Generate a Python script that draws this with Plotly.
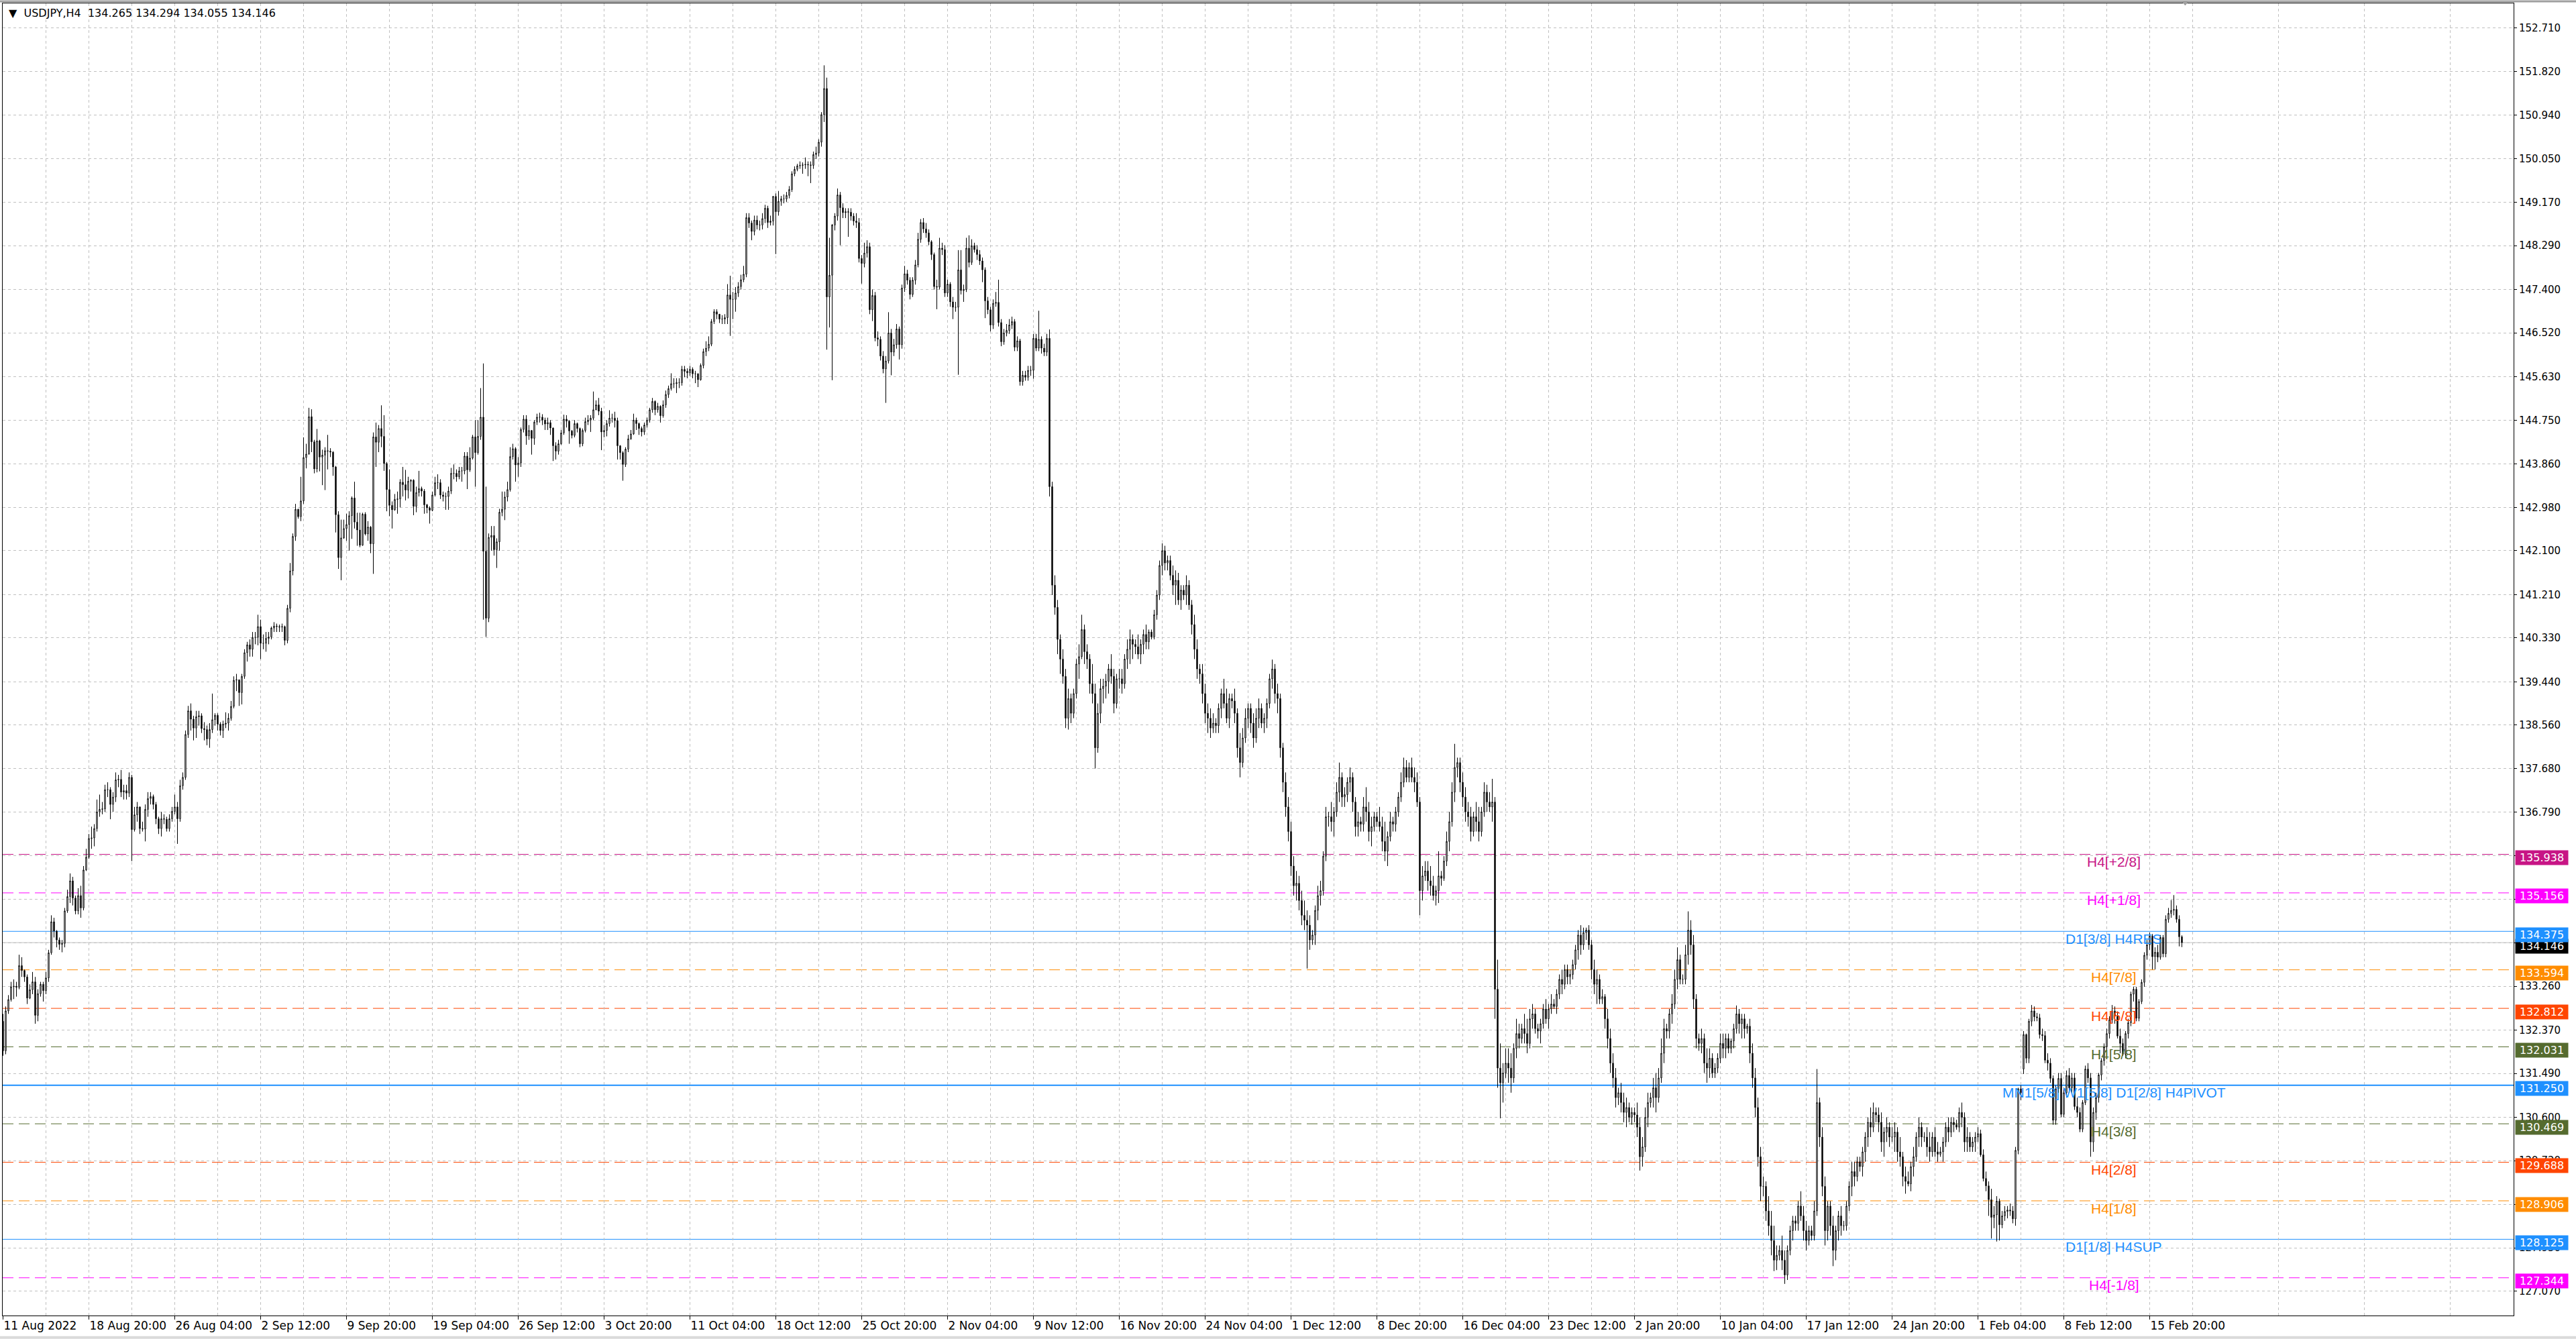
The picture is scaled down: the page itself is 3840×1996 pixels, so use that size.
import plotly.graph_objects as go

# ---------------- data (USDJPY H4, bar 0 = 11 Aug 2022 12:00, last bar = 17 Feb 2023 20:00) ----------------
open_ = [
132.55,131.95,132.76,132.99,133.25,133.26,133.24,133.68,133.58,133.45,
133.02,133.19,133.35,132.67,133.11,133.30,133.17,133.43,133.94,134.57,
134.38,134.20,134.11,134.13,134.79,135.08,135.40,135.05,134.79,135.10,
134.85,135.62,135.88,136.26,136.27,136.46,136.80,136.85,136.86,137.25,
137.25,136.95,137.10,137.45,137.46,137.20,137.23,137.18,137.50,136.44,
136.74,136.90,136.46,136.45,136.85,137.07,137.11,136.95,136.66,136.46,
136.66,136.65,136.46,136.66,136.81,136.90,136.66,137.33,137.50,138.37,
138.85,138.68,138.50,138.73,138.75,138.49,138.47,138.28,138.47,138.67,
138.76,138.58,138.45,138.58,138.60,138.70,138.94,139.47,139.48,139.22,
139.55,140.03,140.19,140.10,140.34,140.34,140.56,140.22,140.22,140.32,
140.35,140.53,140.57,140.56,140.55,140.56,140.28,140.93,141.69,142.39,
142.94,142.79,143.11,143.99,144.06,144.82,144.31,143.76,144.33,144.00,
144.04,144.13,144.12,144.10,143.80,142.83,141.96,142.36,142.55,142.63,
142.81,143.17,142.68,142.52,142.21,142.84,142.44,142.58,142.24,144.41,
144.30,144.58,144.42,143.87,143.34,143.02,142.93,143.14,143.15,143.49,
143.44,143.33,143.51,143.53,143.00,143.28,143.36,143.31,143.03,142.97,
142.92,143.23,143.48,143.48,143.23,143.20,143.20,143.31,143.67,143.67,
143.60,143.72,143.72,144.02,143.74,143.98,144.41,144.09,144.42,144.81,
142.09,140.73,142.37,142.41,142.12,142.28,142.88,142.94,143.19,143.34,
144.01,144.17,143.84,143.88,144.56,144.77,144.43,144.54,144.38,144.71,
144.81,144.81,144.75,144.67,144.70,144.59,144.23,144.12,144.27,144.49,
144.77,144.73,144.53,144.44,144.68,144.58,144.27,144.54,144.72,144.75,
144.79,144.96,145.06,144.93,144.51,144.54,144.68,144.79,144.79,144.74,
144.23,144.09,143.85,144.16,144.37,144.47,144.75,144.68,144.58,144.51,
144.65,144.75,144.96,145.13,144.96,145.03,144.84,145.06,145.27,145.39,
145.49,145.49,145.51,145.51,145.78,145.74,145.71,145.78,145.69,145.69,
145.57,145.86,146.14,146.21,146.29,146.75,146.95,146.90,146.80,146.80,
146.83,147.29,147.20,147.20,147.33,147.46,147.60,147.71,148.86,148.75,
148.58,148.81,148.71,148.71,148.84,149.05,148.76,148.79,149.29,148.98,
149.19,149.24,149.24,149.31,149.43,149.75,149.84,149.91,149.92,149.93,
149.94,149.93,149.92,150.14,150.17,150.39,150.95,151.48,147.25,147.69,
148.71,148.89,149.32,149.06,148.96,148.98,148.97,148.89,148.79,148.76,
148.03,147.93,148.14,148.27,146.99,147.28,146.42,146.39,146.05,145.79,
145.95,146.52,146.13,146.28,146.60,146.28,147.43,147.72,147.59,147.30,
147.59,147.90,148.42,148.76,148.63,148.55,148.37,148.11,147.46,147.45,
148.24,148.21,147.33,147.51,147.15,147.04,147.04,147.80,147.38,147.40,
148.24,147.95,148.29,148.21,148.11,147.98,147.80,147.17,146.99,146.68,
147.12,147.14,146.73,146.34,146.52,146.57,146.68,146.75,146.23,146.36,
145.53,145.66,145.62,145.76,145.76,146.41,146.21,146.39,146.21,146.13,
146.41,143.40,141.40,140.95,140.30,139.90,139.55,138.70,139.10,138.80,
139.20,139.80,139.95,140.50,140.05,139.90,139.40,139.20,138.10,138.80,
139.30,139.35,139.45,139.70,139.55,139.00,139.50,139.50,139.40,139.90,
140.10,140.30,140.20,140.15,140.00,140.20,140.40,140.25,140.45,140.35,
140.80,141.20,141.80,142.10,141.85,141.90,141.60,141.40,141.50,141.10,
141.30,141.20,141.40,141.00,140.60,140.10,139.70,139.60,139.20,138.80,
138.70,138.50,138.60,138.55,138.90,139.20,139.00,138.70,139.10,139.05,
138.80,138.10,137.80,138.30,138.70,138.90,138.60,138.30,138.70,138.90,
138.60,138.70,139.00,139.50,139.70,139.20,139.10,138.10,137.40,136.90,
136.40,135.70,135.30,135.35,135.00,134.70,134.60,134.50,134.20,134.30,
134.80,135.10,135.20,135.90,136.70,136.70,136.60,136.80,137.20,137.50,
137.10,137.15,137.40,137.50,137.00,136.50,136.60,136.55,136.90,136.80,
136.40,136.50,136.70,136.60,136.50,136.20,136.00,136.30,136.60,136.55,
136.80,137.10,137.40,137.70,137.50,137.70,137.50,137.40,137.00,135.20,
135.50,135.60,135.40,135.30,135.10,135.20,135.50,135.45,135.80,136.20,
136.60,137.20,137.70,137.80,137.40,137.10,136.80,136.70,136.40,136.70,
136.60,136.40,136.80,137.20,137.00,136.90,137.00,133.20,131.60,131.30,
131.50,131.70,131.60,131.40,132.00,132.30,132.20,132.40,132.30,132.10,
132.60,132.70,132.40,132.35,132.50,132.80,132.60,132.80,132.90,132.85,
133.10,133.40,133.30,133.60,133.45,133.50,133.70,134.00,134.30,134.10,
134.35,134.40,134.10,133.60,133.30,133.40,133.00,133.05,132.60,132.20,
131.70,131.40,131.00,131.10,130.90,130.70,130.80,130.60,130.70,130.65,
130.40,129.80,130.00,130.60,130.90,131.00,131.20,131.00,131.40,131.90,
132.40,132.35,132.70,132.90,133.40,133.80,133.40,133.40,133.90,134.40,
134.10,133.00,132.20,132.10,132.20,131.70,131.60,131.80,131.50,131.60,
131.80,132.10,132.00,132.20,132.00,132.15,132.40,132.70,132.50,132.60,
132.40,132.45,131.90,131.40,130.80,129.80,129.20,129.20,128.70,128.40,
128.10,127.70,127.80,127.90,127.70,127.40,127.90,128.30,128.50,128.45,
128.80,128.60,128.30,128.10,128.30,128.20,128.70,130.90,130.20,129.20,
128.30,128.80,128.40,127.90,128.30,128.60,128.40,128.40,128.80,129.20,
129.50,129.40,129.70,129.60,129.90,130.20,130.50,130.40,130.70,130.65,
130.50,130.10,130.30,130.40,130.20,130.20,130.30,129.90,129.80,129.40,
129.30,129.25,129.60,129.80,130.20,130.40,130.20,130.20,130.00,129.90,
130.20,129.90,129.85,129.90,130.10,130.40,130.30,130.50,130.45,130.40,
130.70,130.60,130.10,130.20,130.00,130.10,130.20,130.27,129.84,129.36,
129.21,128.93,128.57,128.62,128.90,128.42,128.60,128.69,128.72,128.70,
128.54,129.93,131.18,131.58,132.28,131.80,132.55,132.76,132.64,132.62,
132.28,132.26,131.76,131.70,131.39,130.54,131.18,131.39,130.66,131.10,
131.45,131.20,131.40,130.82,130.70,130.36,130.90,131.58,131.40,130.10,
130.70,131.00,131.46,131.75,132.03,132.30,132.58,132.76,132.65,132.25,
132.10,131.88,132.30,132.52,133.10,133.20,132.61,132.95,133.34,133.89,
134.10,134.28,133.86,133.95,133.85,134.25,133.92,134.62,134.74,134.80,
134.82,134.62,134.265,
]
high = [
132.70,132.85,133.08,133.35,133.40,133.35,133.90,133.85,133.60,133.50,
133.30,133.55,133.45,133.20,133.35,133.35,133.55,134.00,134.70,134.65,
134.40,134.25,134.20,134.85,135.22,135.55,135.48,135.10,135.25,135.30,
135.70,136.05,136.35,136.50,136.55,137.05,137.15,137.00,137.35,137.40,
137.30,137.20,137.60,137.55,137.65,137.35,137.35,137.60,137.55,136.90,
137.00,136.90,136.60,136.95,137.20,137.20,137.15,137.00,136.70,136.80,
136.75,136.70,136.75,136.90,137.15,137.00,137.45,137.60,138.45,138.95,
139.00,138.75,138.85,138.85,138.80,138.62,138.55,138.60,139.20,138.80,
138.80,138.62,138.65,138.82,138.80,139.05,139.55,139.60,139.48,139.60,
140.10,140.25,140.30,140.45,140.45,140.80,140.70,140.40,140.45,140.45,
140.56,140.65,140.62,140.60,140.62,140.58,141.00,141.85,142.45,143.05,
142.95,143.60,144.40,144.27,145.00,144.97,144.35,144.57,144.35,144.15,
144.20,144.45,144.18,144.12,143.82,142.90,142.73,142.73,142.85,142.90,
143.20,143.50,142.87,142.87,142.87,142.88,142.70,142.60,144.50,144.70,
144.65,145.05,144.85,143.90,143.75,143.10,143.25,143.30,143.55,143.80,
143.74,143.60,143.55,143.55,143.40,143.72,143.40,143.35,143.05,143.00,
143.30,143.60,143.65,143.55,143.30,143.28,143.40,143.78,143.85,143.75,
143.80,143.80,144.10,144.10,144.20,144.45,144.75,144.75,145.40,145.90,
143.40,142.45,142.60,142.60,142.35,142.95,143.30,143.30,143.50,144.20,
144.27,144.20,144.00,144.60,144.85,144.85,144.65,144.55,144.75,144.88,
144.90,144.87,144.80,144.80,144.75,144.60,144.30,144.35,144.55,144.86,
144.85,144.75,144.55,144.75,144.70,144.60,144.58,144.80,144.85,144.85,
145.33,145.15,145.20,145.00,144.65,144.75,144.95,144.88,144.92,144.80,
144.24,144.12,144.20,144.45,144.55,144.88,144.80,144.70,144.62,144.70,
144.80,145.00,145.20,145.15,145.10,145.05,145.15,145.35,145.45,145.70,
145.60,145.60,145.60,145.85,145.85,145.80,145.85,145.82,145.75,145.70,
145.90,146.20,146.35,146.45,146.80,147.00,147.00,146.90,146.88,146.90,
147.51,147.68,147.35,147.45,147.55,147.70,147.88,148.95,148.95,148.80,
148.90,148.90,148.80,148.95,149.12,149.10,148.90,149.30,149.35,149.40,
149.30,149.33,149.38,149.50,149.80,149.90,149.95,150.00,149.98,150.08,
150.00,150.00,150.20,150.30,150.45,151.00,151.95,151.70,148.45,148.73,
148.95,149.45,149.38,149.15,149.05,149.05,149.05,148.95,148.95,148.85,
148.10,148.35,148.40,148.35,147.40,147.35,146.55,146.45,146.15,146.05,
146.94,146.60,146.40,146.70,146.65,147.50,147.88,147.80,147.65,147.65,
148.00,148.55,148.83,148.85,148.75,148.62,148.40,148.15,147.60,148.45,
148.35,148.30,147.60,147.55,147.25,147.15,148.20,148.20,147.50,148.45,
148.50,148.42,148.35,148.30,148.20,148.05,147.85,147.25,147.05,147.20,
147.35,147.60,146.80,146.60,146.70,146.80,146.85,146.80,146.45,146.40,
145.75,145.75,145.85,145.85,146.50,146.50,146.97,146.45,146.30,146.50,
146.59,143.50,141.60,141.10,140.40,140.10,139.70,139.30,139.20,139.30,
139.90,140.20,140.80,140.60,140.20,140.00,139.80,139.40,139.00,139.50,
139.50,139.60,139.80,140.00,139.70,139.60,139.70,139.70,140.00,140.30,
140.50,140.40,140.30,140.40,140.30,140.50,140.60,140.50,140.50,140.90,
141.30,141.90,142.25,142.20,142.00,142.00,141.80,141.70,141.65,141.40,
141.40,141.60,141.50,141.10,140.80,140.30,139.80,139.80,139.40,139.00,
138.90,138.80,138.70,139.00,139.30,139.50,139.30,139.20,139.20,139.30,
138.90,138.40,138.50,138.90,139.00,139.00,138.80,138.90,139.10,139.00,
138.80,139.10,139.60,139.89,139.80,139.40,139.20,138.20,137.60,137.10,
136.60,135.90,135.60,135.50,135.20,135.00,134.80,134.70,134.40,134.90,
135.30,135.40,136.00,136.90,136.80,137.00,136.90,137.40,137.80,137.60,
137.30,137.50,137.70,137.60,137.10,136.80,136.70,137.10,137.30,137.00,
136.70,136.80,136.80,136.90,136.70,136.60,136.40,136.80,136.70,136.90,
137.20,137.60,137.90,137.85,137.80,137.90,137.70,137.60,137.10,135.70,
135.80,135.80,135.70,135.50,135.30,136.00,135.60,135.90,136.40,136.80,
137.40,138.18,137.90,137.90,137.60,137.30,137.00,136.90,136.80,137.00,
136.90,136.90,137.40,137.35,137.20,137.47,137.10,133.80,132.10,131.70,
132.00,132.00,131.90,132.10,132.60,132.50,132.50,132.70,132.60,132.80,
132.90,132.80,132.50,132.60,132.90,133.00,132.90,133.10,133.00,133.20,
133.50,133.60,133.70,133.70,133.60,133.80,134.10,134.40,134.50,134.45,
134.45,134.50,134.20,133.80,133.60,133.50,133.20,133.10,132.80,132.40,
131.90,131.60,131.20,131.30,131.10,131.00,130.90,130.80,130.80,130.90,
130.60,130.20,130.80,131.10,131.10,131.40,131.50,131.60,132.20,132.60,
132.50,132.80,133.10,133.60,134.05,133.90,133.50,134.10,134.78,134.60,
134.30,133.10,132.30,132.40,132.30,132.00,132.00,131.90,131.70,131.90,
132.30,132.30,132.30,132.30,132.20,132.50,132.87,132.80,132.70,132.70,
132.50,132.60,132.10,131.60,131.00,130.00,129.40,129.30,129.00,128.70,
128.40,128.00,128.00,128.20,127.90,128.00,128.40,128.60,128.60,128.90,
129.10,128.80,128.50,128.40,128.40,128.90,131.58,131.00,130.40,129.40,
128.90,128.90,128.60,128.40,128.70,128.80,128.50,128.90,129.30,129.70,
129.70,129.80,129.80,130.00,130.30,130.60,130.80,130.90,130.80,130.80,
130.70,130.40,130.60,130.50,130.40,130.50,130.40,130.20,129.90,129.60,
129.50,129.70,130.00,130.30,130.60,130.50,130.30,130.40,130.30,130.30,
130.40,130.10,130.00,130.20,130.50,130.60,130.60,130.60,130.55,130.80,
130.90,130.70,130.40,130.30,130.20,130.30,130.40,130.35,129.95,129.50,
129.30,129.15,128.80,129.00,128.95,128.70,128.80,128.80,128.85,128.80,
130.00,131.20,131.25,132.35,132.30,132.60,132.88,132.85,132.72,132.70,
132.40,132.35,131.90,131.80,131.45,131.25,131.50,131.50,131.20,131.55,
131.60,131.50,131.50,131.00,130.80,130.95,131.65,131.70,131.50,130.80,
131.10,131.50,131.80,132.10,132.40,132.65,132.88,132.85,132.75,132.40,
132.20,132.35,132.60,133.15,133.25,133.25,133.00,133.40,133.95,134.20,
134.35,134.32,134.05,134.10,134.30,134.30,134.70,134.85,135.01,135.11,
134.90,134.70,134.294,
]
low = [
131.85,131.88,132.70,132.95,133.00,133.05,133.20,133.45,133.35,132.90,
133.00,133.10,132.50,132.55,133.05,132.95,133.10,133.35,133.90,134.25,
134.05,134.00,133.95,134.05,134.75,134.95,134.90,134.72,134.72,134.65,
134.80,135.60,135.85,136.05,136.10,136.40,136.70,136.75,136.80,137.10,
136.65,136.80,137.00,137.30,137.10,137.05,137.05,137.10,135.80,136.40,
136.60,136.35,136.40,136.20,136.70,136.95,136.85,136.55,136.35,136.30,
136.55,136.40,136.40,136.60,136.75,136.15,136.60,137.25,137.45,138.30,
138.45,138.25,138.30,138.55,138.40,138.25,138.15,138.10,138.40,138.55,
138.45,138.35,138.30,138.50,138.45,138.65,138.90,139.25,138.95,138.98,
139.50,139.85,139.95,139.95,140.20,140.18,139.90,140.10,140.05,140.20,
140.30,140.45,140.45,140.45,140.45,140.18,140.22,140.85,141.60,142.30,
142.75,142.70,143.05,143.77,144.05,144.10,143.67,143.69,143.71,143.43,
143.33,143.75,144.00,143.62,142.47,141.73,141.50,142.34,142.30,142.10,
142.34,142.55,142.20,142.17,142.20,142.41,142.30,142.05,141.63,143.80,
144.10,144.20,143.72,142.90,142.80,142.55,142.91,142.85,142.98,143.20,
143.12,143.16,143.30,142.82,142.88,143.20,143.20,142.85,142.86,142.65,
142.90,143.20,143.35,143.15,143.10,142.93,142.93,143.25,143.55,143.50,
143.55,143.50,143.65,143.35,143.70,143.95,143.40,144.05,144.35,140.70,
140.35,140.65,142.10,142.00,141.75,142.10,142.80,142.72,143.10,143.30,
143.95,143.50,143.60,143.80,144.50,144.25,144.35,144.05,144.25,144.65,
144.70,144.65,144.55,144.55,144.45,143.92,143.95,144.05,144.25,144.45,
144.60,144.27,144.38,144.40,144.50,144.20,144.22,144.50,144.65,144.51,
144.75,144.95,144.85,144.14,144.40,144.42,144.62,144.70,144.60,143.95,
143.95,143.52,143.80,144.10,144.35,144.45,144.55,144.45,144.42,144.45,
144.60,144.70,144.90,144.85,144.90,144.70,144.80,145.00,145.20,145.35,
145.40,145.30,145.40,145.45,145.62,145.60,145.65,145.60,145.50,145.42,
145.55,145.80,146.05,146.15,146.25,146.70,146.80,146.72,146.70,146.70,
146.70,146.46,146.80,146.95,147.25,147.40,147.55,147.65,148.65,148.40,
148.50,148.62,148.60,148.62,148.75,148.65,148.70,148.70,148.12,148.90,
149.10,149.15,149.18,149.25,149.38,149.70,149.80,149.85,149.75,149.85,
149.70,149.56,149.85,150.05,150.10,150.30,150.80,146.18,146.63,145.56,
148.60,148.80,148.30,148.85,148.85,148.47,148.80,148.70,148.65,147.95,
147.52,147.85,148.05,146.90,146.76,146.35,146.25,145.96,145.70,145.10,
145.90,145.66,146.05,146.20,145.98,146.20,147.35,147.50,147.20,147.25,
147.50,147.85,148.35,148.55,148.45,148.30,148.00,147.40,147.00,147.40,
148.10,147.25,147.25,147.05,146.80,146.95,145.67,147.30,147.15,147.35,
147.85,147.90,148.15,148.00,147.90,147.55,146.82,146.90,146.55,146.60,
147.05,146.65,146.25,146.28,146.45,146.50,146.60,146.15,146.15,145.45,
145.45,145.55,145.55,145.65,145.59,146.15,146.15,146.10,146.05,146.05,
143.20,141.20,140.80,140.00,139.60,139.40,138.50,138.47,138.60,138.70,
139.10,139.50,139.90,139.80,139.70,139.20,139.00,137.68,138.00,138.60,
139.00,139.10,139.20,139.40,138.80,138.90,139.30,139.20,139.30,139.70,
139.80,139.90,140.00,139.90,139.80,140.00,140.10,140.10,140.30,140.30,
140.70,141.10,141.60,141.70,141.70,141.50,141.20,141.00,141.00,140.90,
141.10,141.00,140.90,140.40,139.90,139.50,139.40,139.00,138.60,138.40,
138.30,138.40,138.40,138.40,138.70,138.90,138.60,138.50,138.90,138.60,
137.90,137.50,137.70,138.20,138.50,138.40,138.10,138.20,138.50,138.50,
138.40,138.50,138.90,139.30,139.00,138.80,137.90,137.20,136.70,136.20,
135.50,135.10,135.00,134.80,134.50,134.40,133.62,134.00,134.10,134.10,
134.60,134.90,135.10,135.80,136.50,136.40,136.30,136.70,137.00,136.90,
136.90,137.00,137.20,136.80,136.30,136.30,136.40,136.40,136.60,136.20,
136.10,136.40,136.50,136.40,136.00,135.80,135.70,136.20,136.40,136.40,
136.70,137.00,137.30,137.40,137.40,137.40,137.20,136.90,134.70,135.00,
135.40,135.20,135.10,135.00,134.90,134.95,135.30,135.40,135.70,136.00,
136.50,137.00,137.50,137.20,136.90,136.60,136.50,136.20,136.30,136.40,
136.20,136.30,136.70,136.80,136.80,136.60,132.60,131.20,130.58,130.90,
131.40,131.30,131.10,131.30,131.80,132.00,132.10,132.10,131.90,132.00,
132.40,132.30,132.20,132.10,132.40,132.50,132.40,132.70,132.80,132.70,
133.00,133.10,133.20,133.30,133.30,133.40,133.60,133.80,133.90,134.00,
134.20,134.00,133.40,133.10,132.90,132.90,132.90,132.40,132.00,131.50,
131.20,130.80,130.85,130.70,130.50,130.40,130.50,130.45,130.50,130.20,
129.52,129.60,129.90,130.40,130.80,130.80,130.70,130.90,131.30,131.70,
132.20,132.20,132.50,132.80,133.20,133.30,133.30,133.30,133.70,133.90,
132.80,132.00,131.95,131.90,131.50,131.30,131.40,131.40,131.40,131.50,
131.70,131.80,131.80,131.90,131.90,132.00,132.30,132.30,132.20,132.20,
132.30,131.70,131.20,130.60,129.60,128.90,129.00,128.50,128.20,127.80,
127.48,127.50,127.70,127.50,127.22,127.30,127.80,128.10,128.30,128.30,
128.50,128.10,127.90,128.00,128.10,128.10,128.60,130.00,129.00,128.00,
128.10,128.20,127.58,127.70,128.10,128.20,128.30,128.30,128.70,129.00,
129.20,129.30,129.50,129.40,129.70,130.00,130.20,130.30,130.50,130.30,
129.90,129.80,130.10,130.00,130.10,129.90,129.70,129.60,129.20,129.05,
129.20,129.10,129.40,129.70,130.00,130.00,130.10,129.80,129.70,129.80,
129.80,129.70,129.80,129.70,130.00,130.10,130.20,130.30,130.35,130.30,
130.40,129.90,129.90,129.90,129.90,129.90,130.10,129.80,129.30,129.10,
128.60,128.14,128.35,128.08,128.10,128.35,128.50,128.55,128.60,128.45,
128.40,129.85,130.95,131.48,131.70,131.70,132.45,132.55,132.55,132.20,
132.15,131.70,131.55,131.30,130.45,130.45,131.10,130.60,130.60,131.00,
131.10,131.10,130.75,130.60,130.30,130.30,130.85,131.30,129.80,129.90,
130.55,130.90,131.35,131.65,131.95,132.20,132.50,132.50,132.20,131.90,
131.85,131.80,132.20,132.45,132.95,132.55,132.55,132.90,133.25,133.80,
134.00,133.60,133.60,133.75,133.80,133.85,133.85,134.55,134.65,134.70,
134.55,134.07,134.055,
]
close = [
131.95,132.76,132.99,133.25,133.26,133.24,133.68,133.58,133.45,133.02,
133.19,133.35,132.67,133.11,133.30,133.17,133.43,133.94,134.57,134.38,
134.20,134.11,134.13,134.79,135.08,135.40,135.05,134.79,135.10,134.85,
135.62,135.88,136.26,136.27,136.46,136.80,136.85,136.86,137.25,137.25,
136.95,137.10,137.45,137.46,137.20,137.23,137.18,137.50,136.44,136.74,
136.90,136.46,136.45,136.85,137.07,137.11,136.95,136.66,136.46,136.66,
136.65,136.46,136.66,136.81,136.90,136.66,137.33,137.50,138.37,138.85,
138.68,138.50,138.73,138.75,138.49,138.47,138.28,138.47,138.67,138.76,
138.58,138.45,138.58,138.60,138.70,138.94,139.47,139.48,139.22,139.55,
140.03,140.19,140.10,140.34,140.34,140.56,140.22,140.22,140.32,140.35,
140.53,140.57,140.56,140.55,140.56,140.28,140.93,141.69,142.39,142.94,
142.79,143.11,143.99,144.06,144.82,144.31,143.76,144.33,144.00,144.04,
144.13,144.12,144.10,143.80,142.83,141.96,142.36,142.55,142.63,142.81,
143.17,142.68,142.52,142.21,142.84,142.44,142.58,142.24,144.41,144.30,
144.58,144.42,143.87,143.34,143.02,142.93,143.14,143.15,143.49,143.44,
143.33,143.51,143.53,143.00,143.28,143.36,143.31,143.03,142.97,142.92,
143.23,143.48,143.48,143.23,143.20,143.20,143.31,143.67,143.67,143.60,
143.72,143.72,144.02,143.74,143.98,144.41,144.09,144.42,144.81,142.09,
140.73,142.37,142.41,142.12,142.28,142.88,142.94,143.19,143.34,144.01,
144.17,143.84,143.88,144.56,144.77,144.43,144.54,144.38,144.71,144.81,
144.81,144.75,144.67,144.70,144.59,144.23,144.12,144.27,144.49,144.77,
144.73,144.53,144.44,144.68,144.58,144.27,144.54,144.72,144.75,144.79,
144.96,145.06,144.93,144.51,144.54,144.68,144.79,144.79,144.74,144.23,
144.09,143.85,144.16,144.37,144.47,144.75,144.68,144.58,144.51,144.65,
144.75,144.96,145.13,144.96,145.03,144.84,145.06,145.27,145.39,145.49,
145.49,145.51,145.51,145.78,145.74,145.71,145.78,145.69,145.69,145.57,
145.86,146.14,146.21,146.29,146.75,146.95,146.90,146.80,146.80,146.83,
147.29,147.20,147.20,147.33,147.46,147.60,147.71,148.86,148.75,148.58,
148.81,148.71,148.71,148.84,149.05,148.76,148.79,149.29,148.98,149.19,
149.24,149.24,149.31,149.43,149.75,149.84,149.91,149.92,149.93,149.94,
149.93,149.92,150.14,150.17,150.39,150.95,151.48,147.25,147.69,148.71,
148.89,149.32,149.06,148.96,148.98,148.97,148.89,148.79,148.76,148.03,
147.93,148.14,148.27,146.99,147.28,146.42,146.39,146.05,145.79,145.95,
146.52,146.13,146.28,146.60,146.28,147.43,147.72,147.59,147.30,147.59,
147.90,148.42,148.76,148.63,148.55,148.37,148.11,147.46,147.45,148.24,
148.21,147.33,147.51,147.15,147.04,147.04,147.80,147.38,147.40,148.24,
147.95,148.29,148.21,148.11,147.98,147.80,147.17,146.99,146.68,147.12,
147.14,146.73,146.34,146.52,146.57,146.68,146.75,146.23,146.36,145.53,
145.66,145.62,145.76,145.76,146.41,146.21,146.39,146.21,146.13,146.41,
143.40,141.40,140.95,140.30,139.90,139.55,138.70,139.10,138.80,139.20,
139.80,139.95,140.50,140.05,139.90,139.40,139.20,138.10,138.80,139.30,
139.35,139.45,139.70,139.55,139.00,139.50,139.50,139.40,139.90,140.10,
140.30,140.20,140.15,140.00,140.20,140.40,140.25,140.45,140.35,140.80,
141.20,141.80,142.10,141.85,141.90,141.60,141.40,141.50,141.10,141.30,
141.20,141.40,141.00,140.60,140.10,139.70,139.60,139.20,138.80,138.70,
138.50,138.60,138.55,138.90,139.20,139.00,138.70,139.10,139.05,138.80,
138.10,137.80,138.30,138.70,138.90,138.60,138.30,138.70,138.90,138.60,
138.70,139.00,139.50,139.70,139.20,139.10,138.10,137.40,136.90,136.40,
135.70,135.30,135.35,135.00,134.70,134.60,134.50,134.20,134.30,134.80,
135.10,135.20,135.90,136.70,136.70,136.60,136.80,137.20,137.50,137.10,
137.15,137.40,137.50,137.00,136.50,136.60,136.55,136.90,136.80,136.40,
136.50,136.70,136.60,136.50,136.20,136.00,136.30,136.60,136.55,136.80,
137.10,137.40,137.70,137.50,137.70,137.50,137.40,137.00,135.20,135.50,
135.60,135.40,135.30,135.10,135.20,135.50,135.45,135.80,136.20,136.60,
137.20,137.70,137.80,137.40,137.10,136.80,136.70,136.40,136.70,136.60,
136.40,136.80,137.20,137.00,136.90,137.00,133.20,131.60,131.30,131.50,
131.70,131.60,131.40,132.00,132.30,132.20,132.40,132.30,132.10,132.60,
132.70,132.40,132.35,132.50,132.80,132.60,132.80,132.90,132.85,133.10,
133.40,133.30,133.60,133.45,133.50,133.70,134.00,134.30,134.10,134.35,
134.40,134.10,133.60,133.30,133.40,133.00,133.05,132.60,132.20,131.70,
131.40,131.00,131.10,130.90,130.70,130.80,130.60,130.70,130.65,130.40,
129.80,130.00,130.60,130.90,131.00,131.20,131.00,131.40,131.90,132.40,
132.35,132.70,132.90,133.40,133.80,133.40,133.40,133.90,134.40,134.10,
133.00,132.20,132.10,132.20,131.70,131.60,131.80,131.50,131.60,131.80,
132.10,132.00,132.20,132.00,132.15,132.40,132.70,132.50,132.60,132.40,
132.45,131.90,131.40,130.80,129.80,129.20,129.20,128.70,128.40,128.10,
127.70,127.80,127.90,127.70,127.40,127.90,128.30,128.50,128.45,128.80,
128.60,128.30,128.10,128.30,128.20,128.70,130.90,130.20,129.20,128.30,
128.80,128.40,127.90,128.30,128.60,128.40,128.40,128.80,129.20,129.50,
129.40,129.70,129.60,129.90,130.20,130.50,130.40,130.70,130.65,130.50,
130.10,130.30,130.40,130.20,130.20,130.30,129.90,129.80,129.40,129.30,
129.25,129.60,129.80,130.20,130.40,130.20,130.20,130.00,129.90,130.20,
129.90,129.85,129.90,130.10,130.40,130.30,130.50,130.45,130.40,130.70,
130.60,130.10,130.20,130.00,130.10,130.20,130.27,129.84,129.36,129.21,
128.93,128.57,128.62,128.90,128.42,128.60,128.69,128.72,128.70,128.54,
129.93,131.18,131.10,132.28,131.80,132.55,132.76,132.64,132.62,132.28,
132.26,131.76,131.70,131.39,130.54,131.18,131.39,130.66,131.10,131.45,
131.20,131.40,130.82,130.70,130.36,130.90,131.58,131.40,130.10,130.70,
131.00,131.46,131.75,132.03,132.30,132.58,132.76,132.65,132.25,132.10,
131.88,132.30,132.52,133.10,133.20,132.61,132.95,133.34,133.89,134.10,
134.28,133.86,133.95,133.85,134.25,133.92,134.62,134.74,134.80,134.82,
134.62,134.265,134.146,
]

x_tick_bars = [0, 32, 64, 96, 128, 160, 192, 224, 256, 288, 320, 352, 384,
               416, 448, 480, 512, 544, 576, 608, 640, 672, 704, 736, 768, 800]
x_tick_labels = ["11 Aug 2022", "18 Aug 20:00", "26 Aug 04:00", "2 Sep 12:00", "9 Sep 20:00",
                 "19 Sep 04:00", "26 Sep 12:00", "3 Oct 20:00", "11 Oct 04:00", "18 Oct 12:00",
                 "25 Oct 20:00", "2 Nov 04:00", "9 Nov 12:00", "16 Nov 20:00", "24 Nov 04:00",
                 "1 Dec 12:00", "8 Dec 20:00", "16 Dec 04:00", "23 Dec 12:00", "2 Jan 20:00",
                 "10 Jan 04:00", "17 Jan 12:00", "24 Jan 20:00", "1 Feb 04:00", "8 Feb 12:00",
                 "15 Feb 20:00"]
x_minor_bars = [16, 48, 80, 112, 144, 176, 208, 240, 272, 304, 336, 368, 400, 432, 464,
                496, 528, 560, 592, 624, 656, 688, 720, 752, 784, 816, 848, 880, 912]
price_ticks = [152.710, 151.820, 150.940, 150.050, 149.170, 148.290, 147.400, 146.520,
               145.630, 144.750, 143.860, 142.980, 142.100, 141.210, 140.330, 139.440,
               138.560, 137.680, 136.790, 135.910, 135.020, 134.140, 133.260, 132.370,
               131.490, 130.600, 129.720, 128.830, 127.950, 127.070]

level_prices = [135.938, 135.156, 134.375, 133.594, 132.812, 132.031,
                131.250, 130.469, 129.688, 128.906, 128.125, 127.344]
level_names = ["H4[+2/8]", "H4[+1/8]", "D1[3/8] H4RES", "H4[7/8]", "H4[6/8]", "H4[5/8]",
               "MN1[5/8] W1[5/8] D1[2/8] H4PIVOT", "H4[3/8]", "H4[2/8]", "H4[1/8]",
               "D1[1/8] H4SUP", "H4[-1/8]"]
level_colors = ["#C71585", "#FF00FF", "#1E90FF", "#FF8C00", "#FF4500", "#556B2F",
                "#1E90FF", "#556B2F", "#FF4500", "#FF8C00", "#1E90FF", "#FF00FF"]
level_kinds = ["dash", "dash", "solid", "dash", "dash", "dash",
               "pivot", "dash", "dash", "dash", "solid", "dash"]

symbol_title = "USDJPY,H4"
last_ohlc = ["134.265", "134.294", "134.055", "134.146"]
current_price = 134.146

# ---------------- figure ----------------
bars = list(range(len(close)))
fig = go.Figure()
fig.add_trace(go.Candlestick(
    x=bars, open=open_, high=high, low=low, close=close,
    increasing=dict(line=dict(color="black", width=1), fillcolor="white"),
    decreasing=dict(line=dict(color="black", width=1), fillcolor="black"),
    whiskerwidth=0, hoverinfo="skip", showlegend=False,
))

GRID = "#C0C0C0"
FONT = "DejaVu Sans"

shapes = []
shapes.append(dict(type="line", xref="paper", x0=0, x1=1, yref="y", y0=current_price,
                   y1=current_price, line=dict(color="#C0C0C0", width=1), layer="between"))
for p, c, k in zip(level_prices, level_colors, level_kinds):
    if k == "dash":
        ln = dict(color=c, width=1, dash="16px,8px")
    elif k == "pivot":
        ln = dict(color=c, width=2)
    else:
        ln = dict(color=c, width=1)
    shapes.append(dict(type="line", xref="paper", x0=0, x1=1, yref="y", y0=p, y1=p,
                       line=ln, layer="between"))
# window frame bits (top and bottom light grey strips) and chart-shift marker
shapes.append(dict(type="line", xref="paper", yref="paper", x0=-0.01, x1=1.03,
                   y0=1.0015, y1=1.0015, line=dict(color="#A0A0A0", width=3), layer="above"))
shapes.append(dict(type="line", xref="paper", yref="paper", x0=-0.01, x1=1.03,
                   y0=-0.0168, y1=-0.0168, line=dict(color="#DADADA", width=4), layer="above"))
shapes.append(dict(type="path", xref="paper", yref="paper",
                   path="M 0.8680 1.0015 L 0.8704 1.0015 L 0.8692 0.9985 Z",
                   fillcolor="#A0A0A0", line=dict(color="#A0A0A0", width=1), layer="above"))

annotations = []
LABEL_X = 0.8408
for p, n, c in zip(level_prices, level_names, level_colors):
    annotations.append(dict(xref="paper", x=LABEL_X, yref="y", y=p, yshift=-11,
                            text=n, showarrow=False, xanchor="center", yanchor="middle",
                            font=dict(family="Liberation Sans", size=21, color=c)))

annotations.append(dict(xref="paper", x=1, xanchor="left", xshift=2, yref="y", y=current_price,
                        yshift=-5, text=f"{current_price:.3f}", showarrow=False, bgcolor="black",
                        width=78, height=21, borderpad=0,
                        font=dict(family=FONT, size=16, color="white")))
for p, c in zip(level_prices, level_colors):
    annotations.append(dict(xref="paper", x=1, xanchor="left", xshift=2, yref="y", y=p,
                            yshift=-5, text=f"{p:.3f}", showarrow=False, bgcolor=c,
                            width=78, height=21, borderpad=0,
                            font=dict(family=FONT, size=16, color="white")))

annotations.append(dict(xref="paper", yref="paper", x=0, y=1, xanchor="left", yanchor="top",
                        xshift=7, yshift=-3, showarrow=False,
                        text="▼\u00a0\u00a0" + symbol_title + "\u00a0\u00a0" + " ".join(last_ohlc),
                        font=dict(family=FONT, size=16, color="black")))

fig.update_layout(
    width=3840, height=1996, autosize=False,
    margin=dict(l=4, r=93, t=5, b=35),
    paper_bgcolor="white", plot_bgcolor="white",
    showlegend=False, boxgap=0.5,
    shapes=shapes, annotations=annotations,
    font=dict(family=FONT, size=15, color="black"),
    xaxis=dict(
        range=[-0.125, 935.625], rangeslider=dict(visible=False),
        tickmode="array", tickvals=x_tick_bars, ticktext=x_tick_labels,
        ticks="outside", ticklen=5, tickcolor="black", ticklabelposition="outside right",
        tickfont=dict(family=FONT, size=17, color="black"),
        showgrid=True, gridcolor=GRID, griddash="4px,4px", gridwidth=1,
        minor=dict(tickmode="array", tickvals=x_minor_bars, showgrid=True, gridcolor=GRID,
                   griddash="4px,4px", ticks=""),
        showline=True, linecolor="black", linewidth=1, mirror=True, zeroline=False,
        fixedrange=True,
    ),
    yaxis=dict(
        side="right", range=[126.578, 153.208],
        tickmode="array", tickvals=price_ticks, ticktext=[f"{v:.3f}" for v in price_ticks],
        ticks="outside", ticklen=4, tickcolor="black",
        tickfont=dict(family=FONT, size=15, color="black"),
        showgrid=True, gridcolor=GRID, griddash="4px,4px", gridwidth=1,
        showline=True, linecolor="black", linewidth=1, mirror=True, zeroline=False,
        fixedrange=True,
    ),
)

fig.write_html("out.html",
               config={"displayModeBar": False, "staticPlot": True},
               post_script="document.body.style.margin='0px';document.body.style.overflow='hidden';")
